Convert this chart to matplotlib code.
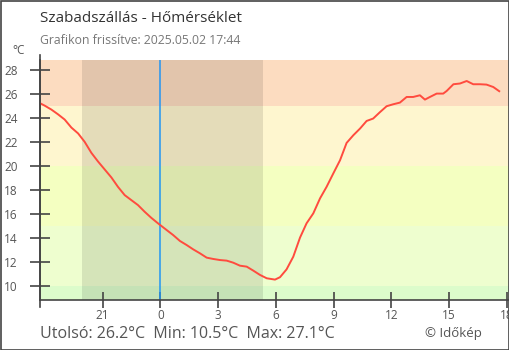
import matplotlib.pyplot as plt
from matplotlib.patches import Rectangle

plt.rcParams['font.family'] = ['Open Sans', 'DejaVu Sans']

# hours relative to midnight (negative = previous evening)
hours = [-6.25, -6.01, -5.66, -5.32, -4.97, -4.62, -4.27, -3.93, -3.58, -3.24,
         -2.89, -2.54, -2.20, -1.85, -1.51, -1.16, -0.81, -0.47, -0.12, 0.33,
         0.67, 1.02, 1.37, 1.71, 2.06, 2.41, 2.75, 3.10, 3.45, 3.79,
         4.14, 4.49, 4.83, 5.18, 5.53, 5.96, 6.22, 6.56, 6.91, 7.26,
         7.60, 7.95, 8.30, 8.64, 8.99, 9.34, 9.68, 10.03, 10.38, 10.72,
         11.06, 11.41, 11.76, 12.10, 12.45, 12.80, 13.14, 13.49, 13.75, 14.01,
         14.36, 14.70, 14.88, 15.23, 15.57, 15.92, 16.26, 16.61, 16.95, 17.30,
         17.61]
temps = [25.2, 25.0, 24.67, 24.28, 23.84, 23.17, 22.68, 21.98, 21.06, 20.35,
         19.68, 19.01, 18.23, 17.54, 17.13, 16.71, 16.15, 15.65, 15.19, 14.63,
         14.21, 13.72, 13.38, 13.02, 12.69, 12.33, 12.22, 12.13, 12.08, 11.91,
         11.66, 11.58, 11.25, 10.89, 10.61, 10.5, 10.7, 11.35, 12.41, 14.0,
         15.19, 16.02, 17.27, 18.23, 19.35, 20.45, 21.89, 22.53, 23.09, 23.72,
         23.92, 24.45, 24.95, 25.11, 25.25, 25.72, 25.72, 25.86, 25.5, 25.72,
         26.0, 26.0, 26.22, 26.78, 26.84, 27.05, 26.78, 26.78, 26.75, 26.55,
         26.2]

xtick_pos = [-3, 0, 3, 6, 9, 12, 15, 18]
xtick_labels = ['21', '0', '3', '6', '9', '12', '15', '18']
ytick_pos = [10, 12, 14, 16, 18, 20, 22, 24, 26, 28]

bands = [(-50, 10, '#dcfccb'), (10, 15, '#eefecf'), (15, 20, '#f4ffc1'),
         (20, 25, '#fef6cf'), (25, 50, '#fcdcc0')]
night = (-4.07, 5.33)

fig = plt.figure(figsize=(5.1, 3.5), dpi=100)
ax = fig.add_axes([40 / 510, 50 / 350, 470 / 510, 240 / 350])

for lo, hi, c in bands:
    ax.axhspan(lo, hi, color=c, lw=0, zorder=0)
ax.axvspan(night[0], night[1], color='#000000', alpha=0.1, lw=0, zorder=1)
ax.axvline(0, color='#2196f3', lw=1.1, zorder=2)
ax.plot(hours, temps, color='#ff4b3e', lw=1.4, zorder=3)

ax.set_xlim(-6.25, 18.17)
ax.set_ylim(8.8, 28.8)

for s in ['top', 'right']:
    ax.spines[s].set_visible(False)
for s in ['left', 'bottom']:
    ax.spines[s].set_color('#444444')
    ax.spines[s].set_linewidth(1.2)
# spine overhang
ax.plot([0, 0], [-0.03, 1.02], transform=ax.transAxes, color='#444444',
        lw=1.2, clip_on=False, zorder=5)

ax.set_xticks(xtick_pos)
ax.set_xticklabels(xtick_labels)
ax.set_yticks(ytick_pos)
ax.tick_params(axis='x', direction='inout', length=12, width=1.2,
               color='#444444', labelcolor='#555555', labelsize=8.5, pad=0.8)
ax.tick_params(axis='y', direction='inout', length=14, width=1.2,
               color='#444444', labelcolor='#555555', labelsize=8.5, pad=9)

fig.text(40 / 510, 1 - 19 / 350, 'Szabadszállás - Hőmérséklet', fontsize=11,
         color='#333333', va='center', ha='left')
fig.text(40 / 510, 1 - 41 / 350, 'Grafikon frissítve: 2025.05.02 17:44',
         fontsize=8.8, color='#777777', va='center', ha='left')
fig.text(12 / 510, 1 - 51 / 350, '°C', fontsize=8.5, color='#555555',
         va='center', ha='left')
fig.text(40 / 510, 1 - 334 / 350,
         'Utolsó: 26.2°C  Min: 10.5°C  Max: 27.1°C', fontsize=11.5,
         color='#555555', va='center', ha='left')
fig.text(482 / 510, 1 - 333 / 350, '© Időkép', fontsize=9.5,
         color='#555555', va='center', ha='right')

fig.patches.append(Rectangle((0.5 / 510, 0.5 / 350), 509 / 510, 349 / 350,
                             transform=fig.transFigure, fill=False,
                             edgecolor='#444444', lw=1.2, zorder=10))

fig.savefig('out.png', dpi=100)
